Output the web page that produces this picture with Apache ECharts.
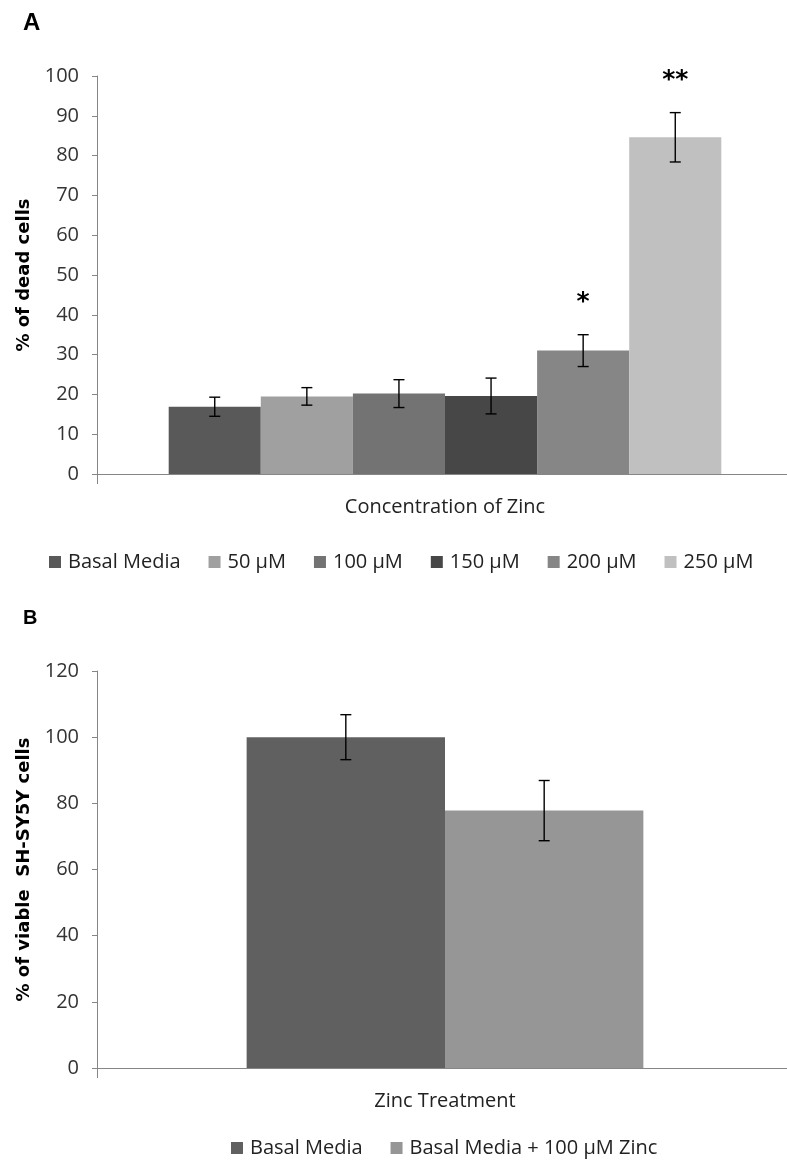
<!DOCTYPE html>
<html><head><meta charset="utf-8">
<script src="https://cdn.jsdelivr.net/npm/echarts@6/dist/echarts.min.js"></script>
<style>html,body{margin:0;padding:0;background:#fff;overflow:hidden}#c{width:800px;height:1164px}</style>
</head><body><div id="c"></div>
<script>
// ---- Data ----
const categoriesA = [''];
const seriesNamesA = ['Basal Media', '50 µM', '100 µM', '150 µM', '200 µM', '250 µM'];
const meanA = [16.9, 19.5, 20.2, 19.6, 31.0, 84.6];
const sdA = [2.4, 2.2, 3.5, 4.5, 4.0, 6.2];
const sigA = ['', '', '', '', '*', '**'];
const yTicksA = { min: 0, max: 100, interval: 10 };

const categoriesB = [''];
const seriesNamesB = ['Basal Media', 'Basal Media + 100 µM Zinc'];
const meanB = [100, 77.8];
const sdB = [6.8, 9.1];
const yTicksB = { min: 0, max: 120, interval: 20 };

// ---- Styles ----
const colorsA = ['#595959', '#a0a0a0', '#737373', '#474747', '#868686', '#c0c0c0'];
const colorsB = ['#606060', '#969696'];
const FONT = "'Open Sans', sans-serif";
const gapA = 0.206, gapB = 0.43;

const chart = echarts.init(document.getElementById('c'), null, { renderer: 'canvas' });

function errRender(n, gap, means, sds, sigs) {
  return function (params, api) {
    const i = api.value(0);
    const band = api.size([1, 0])[0];
    const bw = band * (1 - gap) / n;
    const cx = api.coord([0, 0])[0] + (i - (n - 1) / 2) * bw;
    const m = means[i], s = sds[i];
    const yHi = api.coord([0, m + s])[1];
    const yLo = api.coord([0, m - s])[1];
    const st = { stroke: '#000', lineWidth: 1.4 };
    const children = [
      { type: 'line', shape: { x1: cx, y1: yHi, x2: cx, y2: yLo }, style: st },
      { type: 'line', shape: { x1: cx - 5.5, y1: yHi, x2: cx + 5.5, y2: yHi }, style: st },
      { type: 'line', shape: { x1: cx - 5.5, y1: yLo, x2: cx + 5.5, y2: yLo }, style: st }
    ];
    if (sigs && sigs[i]) {
      children.push({ type: 'text', style: { text: sigs[i], x: cx, y: yHi - 32, align: 'center', verticalAlign: 'middle', font: "bold 25px 'DejaVu Sans', sans-serif", fill: '#000' } });
    }
    return { type: 'group', children };
  };
}

const axisLineStyle = { color: '#868686', width: 1 };

const series = [];
seriesNamesA.forEach((n, i) => series.push({
  name: n, type: 'bar', xAxisIndex: 0, yAxisIndex: 0, data: [meanA[i]],
  itemStyle: { color: colorsA[i] }, barGap: '0%', barCategoryGap: (gapA * 100) + '%', silent: true
}));
series.push({
  type: 'custom', xAxisIndex: 0, yAxisIndex: 0, silent: true, z: 5,
  renderItem: errRender(seriesNamesA.length, gapA, meanA, sdA, sigA),
  data: meanA.map((m, i) => [i, m])
});
seriesNamesB.forEach((n, i) => series.push({
  name: n, type: 'bar', xAxisIndex: 1, yAxisIndex: 1, data: [meanB[i]],
  itemStyle: { color: colorsB[i] }, barGap: '0%', barCategoryGap: (gapB * 100) + '%', silent: true
}));
series.push({
  type: 'custom', xAxisIndex: 1, yAxisIndex: 1, silent: true, z: 5,
  renderItem: errRender(seriesNamesB.length, gapB, meanB, sdB, null),
  data: meanB.map((m, i) => [i, m])
});

function yAxis(idx, ticks, name) {
  return {
    type: 'value', gridIndex: idx, min: ticks.min, max: ticks.max, interval: ticks.interval,
    name: name, nameLocation: 'middle', nameGap: 62,
    nameTextStyle: { fontFamily: "'DejaVu Sans', sans-serif", fontWeight: 'bold', fontSize: 18, color: '#000' },
    axisLine: { show: true, lineStyle: axisLineStyle },
    axisTick: { show: true, length: 5, lineStyle: axisLineStyle },
    splitLine: { show: false },
    axisLabel: { fontFamily: FONT, fontSize: 20, color: '#333', margin: 18 }
  };
}
function xAxis(idx, cats, name) {
  return {
    type: 'category', gridIndex: idx, data: cats,
    name: name, nameLocation: 'middle', nameGap: 23,
    nameTextStyle: { fontFamily: FONT, fontSize: 20, color: '#222' },
    axisLine: { show: true, lineStyle: axisLineStyle },
    axisTick: { show: true, length: 10, lineStyle: axisLineStyle },
    axisLabel: { show: false }
  };
}
function legend(names, colors, left, top) {
  return {
    data: names.map((n, i) => ({ name: n, itemStyle: { color: colors[i] } })),
    left: left, top: top, itemWidth: 12, itemHeight: 12, itemGap: 28, icon: 'rect',
    textStyle: { fontFamily: FONT, fontSize: 20, color: '#222', padding: [0, 0, 0, 2] }, selectedMode: false
  };
}

chart.setOption({
  animation: false,
  title: [
    { text: 'A', left: 18, top: 6, textStyle: { fontFamily: "'Liberation Sans', sans-serif", fontWeight: 'bold', fontSize: 24, color: '#000' } },
    { text: 'B', left: 18, top: 603, textStyle: { fontFamily: "'Liberation Sans', sans-serif", fontWeight: 'bold', fontSize: 20, color: '#000' } }
  ],
  grid: [
    { left: 97, top: 76, right: 7, height: 398 },
    { left: 97, top: 671, right: 7, height: 397 }
  ],
  xAxis: [xAxis(0, categoriesA, 'Concentration of Zinc'), xAxis(1, categoriesB, 'Zinc Treatment')],
  yAxis: [yAxis(0, yTicksA, '% of dead cells'), yAxis(1, yTicksB, '% of viable  SH-SY5Y cells')],
  legend: [legend(seriesNamesA, colorsA, 44, 547), legend(seriesNamesB, colorsB, 226, 1133)],
  series: series
});
</script></body></html>
